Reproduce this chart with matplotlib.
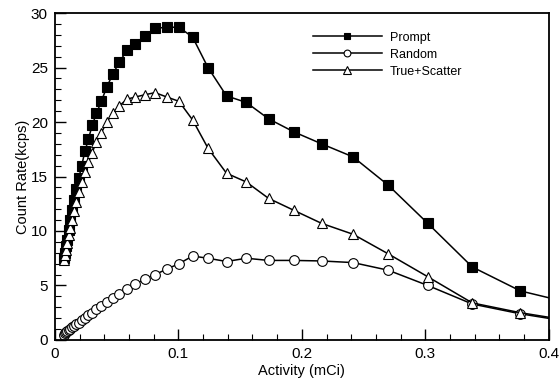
import numpy as np
import matplotlib
matplotlib.use('Agg')
import matplotlib.pyplot as plt
from matplotlib.ticker import MultipleLocator, FuncFormatter

plt.rcParams['font.family'] = ['Liberation Sans', 'DejaVu Sans']

# activity in mCi (decaying source, measured at fixed time steps)
activity = [0.0073, 0.0081, 0.0090, 0.0101, 0.0113, 0.0126, 0.0140, 0.0156, 0.0175, 0.0195,
            0.0217, 0.0243, 0.0271, 0.0302, 0.0337, 0.0376, 0.0420, 0.0469, 0.0523, 0.0584,
            0.0652, 0.0727, 0.0811, 0.0906, 0.1005, 0.1115, 0.1240, 0.1390, 0.1550, 0.1730,
            0.1935, 0.2160, 0.2415, 0.2700, 0.3020, 0.3380, 0.3770, 0.4210]

# count rates in kcps
prompt = [7.5, 8.0, 8.6, 9.2, 10.1, 11.0, 11.9, 12.8, 13.9, 14.9,
          16.0, 17.3, 18.4, 19.7, 20.8, 21.9, 23.2, 24.4, 25.5, 26.6,
          27.2, 27.9, 28.6, 28.7, 28.7, 27.8, 25.0, 22.4, 21.8, 20.3,
          19.1, 18.0, 16.8, 14.2, 10.7, 6.7, 4.5, 3.3]
random_ = [0.5, 0.6, 0.7, 0.8, 0.9, 1.0, 1.15, 1.3, 1.45, 1.6,
           1.8, 2.0, 2.25, 2.5, 2.8, 3.1, 3.45, 3.85, 4.2, 4.65,
           5.1, 5.6, 6.0, 6.5, 7.0, 7.7, 7.5, 7.2, 7.5, 7.3,
           7.3, 7.25, 7.1, 6.4, 5.0, 3.3, 2.4, 1.6]
true_scatter = [7.3, 7.8, 8.3, 8.9, 9.6, 10.3, 11.0, 11.8, 12.7, 13.6,
                14.5, 15.4, 16.3, 17.2, 18.2, 19.0, 20.0, 20.8, 21.5, 22.1,
                22.3, 22.5, 22.7, 22.3, 21.9, 20.2, 17.6, 15.3, 14.5, 13.0,
                11.9, 10.7, 9.7, 7.9, 5.8, 3.4, 2.5, 1.7]

fig = plt.figure(figsize=(5.6, 3.85), dpi=100)
ax = fig.add_axes([0.098, 0.117, 0.882, 0.849])

ms = 7
ax.plot(activity, prompt, '-', color='black', lw=1.1, marker='s', ms=ms,
        mfc='black', mec='black', mew=0.8, label='Prompt')
ax.plot(activity, random_, '-', color='black', lw=1.1, marker='o', ms=ms,
        mfc='white', mec='black', mew=0.8, label='Random')
ax.plot(activity, true_scatter, '-', color='black', lw=1.1, marker='^', ms=ms + 0.5,
        mfc='white', mec='black', mew=0.8, label='True+Scatter')

ax.set_xlim(0, 0.4)
ax.set_ylim(0, 30)
ax.xaxis.set_major_locator(MultipleLocator(0.1))
ax.xaxis.set_minor_locator(MultipleLocator(0.02))
ax.yaxis.set_major_locator(MultipleLocator(5))
ax.yaxis.set_minor_locator(MultipleLocator(1))
ax.xaxis.set_major_formatter(FuncFormatter(lambda v, p: '0' if v == 0 else '%g' % v))
ax.tick_params(which='major', direction='in', length=8, width=1.0, labelsize=11,
               top=False, right=False, pad=5)
ax.tick_params(which='minor', direction='in', length=4, width=0.8, top=False, right=False)
for s in ax.spines.values():
    s.set_linewidth(1.3)

ax.set_xlabel('Activity (mCi)', fontsize=10.5, labelpad=2)
ax.set_ylabel('Count Rate(kcps)', fontsize=10.5, labelpad=1)

ax.legend(loc='upper left', bbox_to_anchor=(0.50, 0.978), frameon=False, fontsize=9,
          handlelength=5.5, numpoints=1, markerscale=0.7, labelspacing=0.4,
          handletextpad=0.65)

fig.savefig('out.png', dpi=100)
